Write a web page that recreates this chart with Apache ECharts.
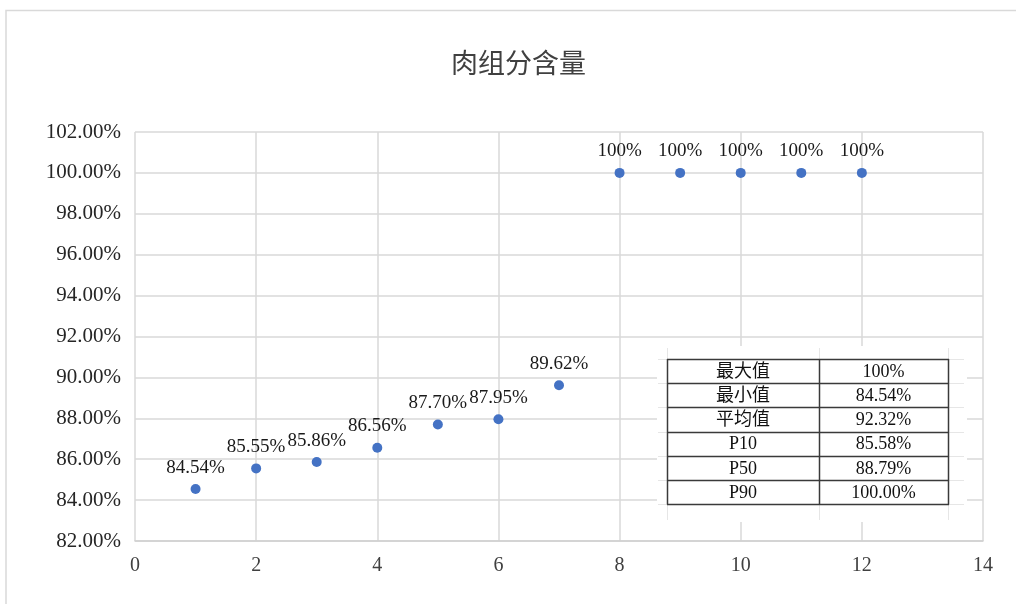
<!DOCTYPE html>
<html>
<head>
<meta charset="utf-8">
<script src="https://cdn.jsdelivr.net/npm/echarts@6/dist/echarts.min.js"></script>
<style>
html,body{margin:0;padding:0;background:#fff;}
#main{width:1016px;height:604px;}
</style>
</head>
<body>
<div id="main"></div>
<script>
var titleText = '肉组分含量';
var xValues = [1, 2, 3, 4, 5, 6, 7, 8, 9, 10, 11, 12];
var yValues = [84.54, 85.55, 85.86, 86.56, 87.70, 87.95, 89.62, 100, 100, 100, 100, 100];
var pointLabels = ['84.54%', '85.55%', '85.86%', '86.56%', '87.70%', '87.95%', '89.62%', '100%', '100%', '100%', '100%', '100%'];
var statLabels = ['最大值', '最小值', '平均值', 'P10', 'P50', 'P90'];
var statValues = ['100%', '84.54%', '92.32%', '85.58%', '88.79%', '100.00%'];

var FONT = '"Liberation Serif", "Times New Roman", "Noto Sans CJK SC", serif';

var chart = echarts.init(document.getElementById('main'));

var data = xValues.map(function (x, i) { return [x, yValues[i]]; });

// table geometry
var tX0 = 667, tX1 = 819, tX2 = 948, tY0 = 359, rowH = 24.2;
var graphics = [];
// outer chart border
graphics.push({type: 'polyline', shape: {points: [[6, 604], [6, 10.5], [1016, 10.5]]}, style: {stroke: '#d9d9d9', lineWidth: 1.5, fill: null}, z: 0});
// white backdrop behind table
graphics.push({type: 'rect', shape: {x: 657, y: 346, width: 310, height: 176}, style: {fill: '#fff'}, z: 10});
// faint cell gridlines
for (var r = 0; r <= statLabels.length; r++) {
  var yy = Math.round(tY0 + r * rowH) + 0.5;
  graphics.push({type: 'line', shape: {x1: 658, y1: yy, x2: 964, y2: yy}, style: {stroke: '#e6e6e6', lineWidth: 1}, z: 11});
}
graphics.push({type: 'line', shape: {x1: 667.5, y1: 348, x2: 667.5, y2: 520}, style: {stroke: '#e6e6e6', lineWidth: 1}, z: 11});
graphics.push({type: 'line', shape: {x1: 819.5, y1: 348, x2: 819.5, y2: 520}, style: {stroke: '#e6e6e6', lineWidth: 1}, z: 11});
graphics.push({type: 'line', shape: {x1: 948.5, y1: 348, x2: 948.5, y2: 520}, style: {stroke: '#e6e6e6', lineWidth: 1}, z: 11});
// table borders
for (var r2 = 0; r2 <= statLabels.length; r2++) {
  var y2 = Math.round(tY0 + r2 * rowH) + 0.5;
  graphics.push({type: 'line', shape: {x1: tX0, y1: y2, x2: tX2 + 1, y2: y2}, style: {stroke: '#3a3a3a', lineWidth: 1.5}, z: 12});
}
var tBottom = Math.round(tY0 + statLabels.length * rowH) + 0.5;
[tX0, tX1, tX2].forEach(function (xx) {
  graphics.push({type: 'line', shape: {x1: xx + 0.5, y1: tY0, x2: xx + 0.5, y2: tBottom}, style: {stroke: '#3a3a3a', lineWidth: 1.5}, z: 12});
});
statLabels.forEach(function (lab, i) {
  var cy = tY0 + (i + 0.5) * rowH + 1;
  graphics.push({type: 'text', x: (tX0 + tX1) / 2, y: cy, style: {text: lab, font: '18px ' + FONT, fill: '#111', textAlign: 'center', textVerticalAlign: 'middle'}, z: 13});
  graphics.push({type: 'text', x: (tX1 + tX2) / 2, y: cy, style: {text: statValues[i], font: '18px ' + FONT, fill: '#111', textAlign: 'center', textVerticalAlign: 'middle'}, z: 13});
});

chart.setOption({
  animation: false,
  backgroundColor: '#fff',
  title: {
    text: titleText,
    left: 446,
    top: 47,
    textStyle: {fontFamily: FONT, fontSize: 27, fontWeight: 'normal', color: '#404040'}
  },
  grid: {left: 135, right: 33, top: 132, bottom: 63, containLabel: false},
  xAxis: {
    type: 'value', min: 0, max: 14, interval: 2,
    axisLine: {show: true, lineStyle: {color: '#d0d0d0', width: 1.5}},
    axisTick: {show: false},
    splitLine: {show: true, lineStyle: {color: '#d9d9d9', width: 1.5}},
    axisLabel: {fontFamily: FONT, fontSize: 20, color: '#404040', margin: 15}
  },
  yAxis: {
    type: 'value', min: 82, max: 102, interval: 2,
    axisLine: {show: false},
    axisTick: {show: false},
    splitLine: {show: true, lineStyle: {color: '#d9d9d9', width: 1.5}},
    axisLabel: {fontFamily: FONT, fontSize: 21, color: '#262626', margin: 14,
      formatter: function (v) { return v.toFixed(2) + '%'; }}
  },
  series: [{
    type: 'scatter',
    data: data,
    symbolSize: 10,
    itemStyle: {color: '#4472C4', opacity: 1},
    label: {
      show: true, position: 'top', distance: 7,
      fontFamily: FONT, fontSize: 19, color: '#1a1a1a',
      formatter: function (p) { return pointLabels[p.dataIndex]; }
    },
    z: 5
  }],
  graphic: graphics
});
</script>
</body>
</html>
